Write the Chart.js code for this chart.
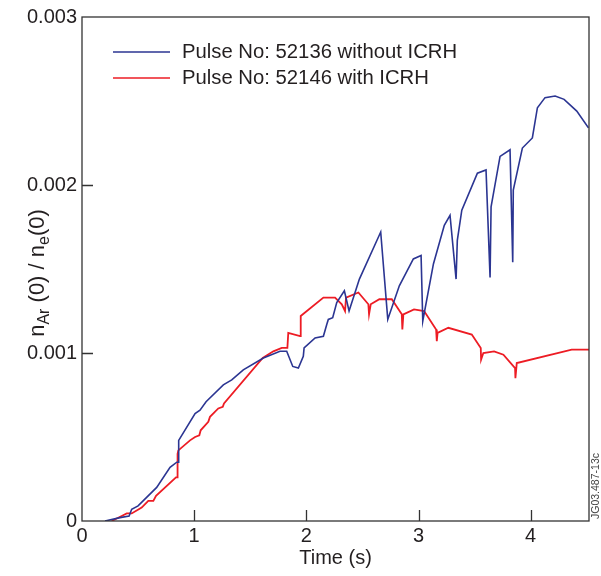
<!DOCTYPE html>
<html>
<head>
<meta charset="utf-8">
<script src="https://cdn.jsdelivr.net/npm/chart.js@4.4.0/dist/chart.umd.min.js"></script>
<style>
  html, body { margin: 0; padding: 0; background: #fff; }
  #wrap { width: 601px; height: 576px; }
</style>
</head>
<body>
<div id="wrap"><canvas id="argonChart" width="601" height="576"></canvas></div>
<script>
// pulse 52136, without ICRH
const blueTime = [0.205, 0.339, 0.42, 0.443, 0.5, 0.666, 0.785, 0.845, 0.862, 0.862, 1.008, 1.052, 1.106, 1.26, 1.335, 1.438, 1.617, 1.765, 1.825, 1.879, 1.929, 1.973, 1.98, 2.078, 2.152, 2.182, 2.196, 2.235, 2.271, 2.339, 2.381, 2.473, 2.663, 2.726, 2.829, 2.954, 3.023, 3.038, 3.133, 3.23, 3.281, 3.335, 3.346, 3.386, 3.525, 3.602, 3.638, 3.647, 3.727, 3.816, 3.84, 3.845, 3.926, 4.015, 4.06, 4.128, 4.218, 4.298, 4.411, 4.515];
const blueRatio = [0, 0.00002, 0.00003, 0.00007, 0.00009, 0.0002, 0.00032, 0.00035, 0.00035, 0.00048, 0.00064, 0.00066, 0.00071, 0.00081, 0.00084, 0.0009, 0.00097, 0.00101, 0.00101, 0.00092, 0.00091, 0.00098, 0.00103, 0.00109, 0.0011, 0.00117, 0.0012, 0.00121, 0.0013, 0.00137, 0.00125, 0.00144, 0.00172, 0.0012, 0.0014, 0.00156, 0.00158, 0.00119, 0.00153, 0.00176, 0.00182, 0.00144, 0.00167, 0.00185, 0.00207, 0.00209, 0.00145, 0.00187, 0.00217, 0.00221, 0.00154, 0.00197, 0.00222, 0.00228, 0.00246, 0.00252, 0.00253, 0.00251, 0.00244, 0.00234];

// pulse 52146, with ICRH
const redTime = [0.265, 0.354, 0.399, 0.443, 0.532, 0.591, 0.636, 0.66, 0.838, 0.85, 0.852, 0.859, 0.963, 1.008, 1.046, 1.058, 1.126, 1.141, 1.215, 1.255, 1.266, 1.611, 1.706, 1.781, 1.831, 1.839, 1.944, 1.95, 2.152, 2.256, 2.316, 2.345, 2.354, 2.464, 2.553, 2.559, 2.574, 2.651, 2.762, 2.851, 2.856, 2.865, 2.96, 3.05, 3.157, 3.163, 3.17, 3.266, 3.475, 3.555, 3.558, 3.578, 3.674, 3.757, 3.861, 3.864, 3.876, 4.366, 4.52];
const redRatio = [0, 0.00003, 0.000045, 0.000045, 0.00008, 0.00012, 0.00012, 0.00015, 0.00026, 0.00026, 0.0004, 0.00042, 0.00048, 0.0005, 0.00051, 0.00054, 0.00059, 0.00062, 0.00067, 0.00068, 0.0007, 0.00097, 0.00101, 0.00103, 0.00103, 0.00112, 0.0011, 0.00122, 0.00133, 0.00133, 0.00129, 0.00125, 0.00133, 0.00136, 0.00129, 0.00123, 0.00129, 0.00132, 0.00132, 0.00123, 0.00114, 0.00123, 0.00126, 0.00125, 0.00114, 0.00107, 0.00112, 0.00115, 0.00111, 0.00103, 0.00096, 0.001, 0.00101, 0.00099, 0.00091, 0.00085, 0.00094, 0.00102, 0.00102];

const seriesLabels = ['Pulse No: 52136 without ICRH', 'Pulse No: 52146 with ICRH'];
const xTickValues = [0, 1, 2, 3, 4];
const yTickValues = [0, 0.001, 0.002, 0.003];

const FONT = '"Liberation Sans", Arial, Helvetica, sans-serif';
const INK = '#231f20';

const toPoints = (xs, ys) => xs.map((x, i) => ({ x: x, y: ys[i] }));

// frame, inward ticks, legend, y title with subscripts, figure code
const decorations = {
  id: 'decorations',
  afterDraw(chart) {
    const { ctx, chartArea: a, scales } = chart;
    const xs = scales.x, ys = scales.y;
    ctx.save();
    ctx.strokeStyle = '#333';
    ctx.lineWidth = 1.3;
    ctx.strokeRect(a.left, a.top, a.right - a.left, a.bottom - a.top);

    ctx.beginPath();
    xTickValues.slice(1).forEach(v => {
      const px = Math.round(xs.getPixelForValue(v)) + 0.5;
      ctx.moveTo(px, a.bottom);
      ctx.lineTo(px, a.bottom - 11);
    });
    yTickValues.slice(1, -1).forEach(v => {
      const py = Math.round(ys.getPixelForValue(v)) + 0.5;
      ctx.moveTo(a.left, py);
      ctx.lineTo(a.left + 11, py);
    });
    ctx.stroke();

    // legend
    ctx.font = '20.3px ' + FONT;
    ctx.textBaseline = 'middle';
    ctx.fillStyle = INK;
    chart.data.datasets.forEach((ds, i) => {
      const y = 52 + i * 26;
      ctx.strokeStyle = ds.borderColor;
      ctx.lineWidth = 1.6;
      ctx.beginPath();
      ctx.moveTo(113, y);
      ctx.lineTo(170, y);
      ctx.stroke();
      ctx.fillText(ds.label, 182, y);
    });

    // y axis title: n_Ar (0) / n_e(0)
    const parts = [
      { t: 'n', sub: false },
      { t: 'Ar', sub: true },
      { t: ' (0) / n', sub: false },
      { t: 'e', sub: true },
      { t: '(0)', sub: false }
    ];
    const big = '22px ' + FONT, small = '16px ' + FONT;
    let total = 0;
    parts.forEach(p => {
      ctx.font = p.sub ? small : big;
      p.w = ctx.measureText(p.t).width;
      total += p.w;
    });
    ctx.translate(44, 273);
    ctx.rotate(-Math.PI / 2);
    ctx.textBaseline = 'alphabetic';
    ctx.textAlign = 'left';
    let cx = -total / 2;
    parts.forEach(p => {
      ctx.font = p.sub ? small : big;
      ctx.fillText(p.t, cx, p.sub ? 5 : 0);
      cx += p.w;
    });
    ctx.restore();

    ctx.save();
    ctx.translate(601, 486);
    ctx.rotate(-Math.PI / 2);
    ctx.font = '10.5px ' + FONT;
    ctx.fillStyle = '#444';
    ctx.textAlign = 'center';
    ctx.textBaseline = 'bottom';
    ctx.fillText('JG03.487-13c', 0, 0);
    ctx.restore();
  }
};

new Chart(document.getElementById('argonChart'), {
  type: 'line',
  data: {
    datasets: [
      {
        label: seriesLabels[0],
        data: toPoints(blueTime, blueRatio),
        borderColor: '#2b3592',
        borderWidth: 1.6,
        pointRadius: 0,
        tension: 0,
        fill: false
      },
      {
        label: seriesLabels[1],
        data: toPoints(redTime, redRatio),
        borderColor: '#ed1c24',
        borderWidth: 1.8,
        pointRadius: 0,
        tension: 0,
        fill: false
      }
    ]
  },
  options: {
    responsive: false,
    animation: false,
    layout: { padding: { top: 13, right: 12, left: 0, bottom: 0 } },
    plugins: {
      legend: { display: false },
      tooltip: { enabled: false }
    },
    scales: {
      x: {
        type: 'linear',
        min: 0,
        max: 4.52,
        afterFit(scale) { scale.height = 55; },
        afterBuildTicks(scale) { scale.ticks = xTickValues.map(v => ({ value: v })); },
        grid: { display: false, drawTicks: false },
        border: { display: false },
        ticks: {
          padding: 3,
          color: INK,
          font: { family: FONT, size: 20 },
          maxRotation: 0
        },
        title: {
          display: true,
          text: 'Time (s)',
          color: INK,
          font: { family: FONT, size: 20 },
          padding: { top: 0, bottom: 6 }
        }
      },
      y: {
        type: 'linear',
        min: 0,
        max: 0.003,
        afterFit(scale) { scale.width = 82; },
        afterBuildTicks(scale) { scale.ticks = yTickValues.map(v => ({ value: v })); },
        grid: { display: false, drawTicks: false },
        border: { display: false },
        ticks: {
          padding: 5,
          color: INK,
          font: { family: FONT, size: 20 },
          callback: v => (v === 0 ? '0' : v.toFixed(3))
        }
      }
    }
  },
  plugins: [decorations]
});
</script>
</body>
</html>
